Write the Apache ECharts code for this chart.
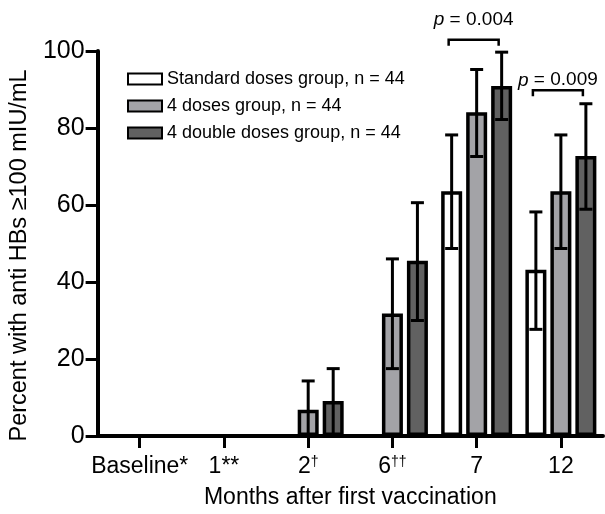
<!DOCTYPE html>
<html>
<head>
<meta charset="utf-8">
<title>Anti HBs response</title>
<script src="https://cdn.jsdelivr.net/npm/echarts@6/dist/echarts.min.js"></script>
<style>
    html, body { margin: 0; padding: 0; background: #fff; }
    #chart { width: 605px; height: 514px; }
</style>
</head>
<body>
<div id="chart"></div>
<script>
// --- Data ---
const categories = ['Baseline*', '1**', '2†', '6††', '7', '12'];
const seriesNames = ['Standard doses group, n = 44', '4 doses group, n = 44', '4 double doses group, n = 44'];
const standardValues = [0, 0, 0, 0, 63.6, 43.2];
const fourDosesValues = [0, 0, 6.8, 31.8, 84.1, 63.6];
const doubleDosesValues = [0, 0, 9.1, 45.5, 90.9, 72.7];
// error bars [low, high], null = no bar
const standardErr = [null, null, null, null, [48.7, 78.2], [27.7, 58.2]];
const fourDosesErr = [null, null, [0, 14.3], [17.5, 46.0], [72.6, 95.2], [48.7, 78.2]];
const doubleDosesErr = [null, null, [0, 17.5], [30.0, 60.6], [82.2, 99.7], [58.9, 86.3]];
const yTicks = [0, 20, 40, 60, 80, 100];
// p value brackets
const pCategories = [4, 5];
const pBracketY = [102.9, 89.8];
const pLabelY = [108.0, 92.4];
const pTexts = ['0.004', '0.009'];

const FONT = 'Liberation Sans, Arial, sans-serif';
const BAR_W = 21;
const BAR_STEP = 25; // bar width + gap
const colors = ['#ffffff', '#a3a3a7', '#616161'];

function barSeries(name, values, color) {
    return {
        name: name,
        type: 'bar',
        data: values,
        barWidth: BAR_W,
        barGap: '19%',
        silent: true,
        itemStyle: { color: color, borderColor: '#000', borderWidth: 3.5 }
    };
}

function errorSeries(errs, slot) {
    return {
        type: 'custom',
        silent: true,
        clip: false,
        z: 5,
        data: errs.map((e, i) => e ? [i, e[0], e[1]] : null).filter(Boolean),
        encode: { x: 0, y: [1, 2] },
        renderItem: function (params, api) {
            const cx = api.coord([api.value(0), 0])[0] + slot * BAR_STEP;
            const lo = api.coord([api.value(0), api.value(1)])[1];
            const hi = api.coord([api.value(0), api.value(2)])[1];
            const st = { stroke: '#000', lineWidth: 3 };
            return {
                type: 'group',
                children: [
                    { type: 'line', shape: { x1: cx, y1: lo, x2: cx, y2: hi }, style: st },
                    { type: 'line', shape: { x1: cx - 6.5, y1: hi, x2: cx + 6.5, y2: hi }, style: st },
                    { type: 'line', shape: { x1: cx - 6.5, y1: lo, x2: cx + 6.5, y2: lo }, style: st }
                ]
            };
        }
    };
}

const chart = echarts.init(document.getElementById('chart'));

chart.setOption({
    animation: false,
    backgroundColor: '#fff',
    textStyle: { fontFamily: FONT, color: '#000' },
    grid: { left: 94, right: 2, top: 51, bottom: 73, containLabel: false },
    legend: {
        orient: 'vertical',
        left: 127,
        top: 70,
        padding: 0,
        itemWidth: 34,
        itemHeight: 11,
        itemGap: 9,
        icon: 'rect',
        data: seriesNames,
        textStyle: { fontSize: 18, color: '#000', fontFamily: FONT }
    },
    xAxis: {
        type: 'category',
        data: categories,
        name: 'Months after first vaccination',
        nameLocation: 'middle',
        nameGap: 50,
        nameTextStyle: { fontSize: 23, color: '#000', fontFamily: FONT },
        axisLine: { show: true, lineStyle: { color: '#000', width: 4 } },
        axisTick: { show: true, alignWithLabel: true, interval: 0, inside: false, length: 12, lineStyle: { color: '#000', width: 3 } },
        axisLabel: {
            interval: 0,
            margin: 19,
            fontSize: 23,
            color: '#000',
            fontFamily: FONT,
            formatter: function (v) {
                const m = v.match(/^([^†]*)(†*)$/);
                return m[2] ? '{n|' + m[1] + '}{s|' + m[2] + '}' : '{n|' + v + '}';
            },
            rich: {
                n: { fontSize: 23, color: '#000', fontFamily: FONT },
                s: { fontSize: 14, color: '#000', fontFamily: FONT, verticalAlign: 'top', padding: [0, 0, 8, 0] }
            }
        }
    },
    yAxis: {
        type: 'value',
        min: yTicks[0],
        max: yTicks[yTicks.length - 1],
        interval: yTicks[1] - yTicks[0],
        name: 'Percent with anti HBs \u2265100 mIU/mL',
        nameLocation: 'middle',
        nameGap: 64,
        nameTextStyle: { fontSize: 23.5, color: '#000', fontFamily: FONT, padding: [0, 24, 0, 0] },
        axisLine: { show: true, lineStyle: { color: '#000', width: 4 } },
        axisTick: { show: true, length: 12, lineStyle: { color: '#000', width: 3 } },
        axisLabel: { margin: 13, fontSize: 25, color: '#000', fontFamily: FONT },
        splitLine: { show: false }
    },
    series: [
        barSeries(seriesNames[0], standardValues, colors[0]),
        barSeries(seriesNames[1], fourDosesValues, colors[1]),
        barSeries(seriesNames[2], doubleDosesValues, colors[2]),
        errorSeries(standardErr, -1),
        errorSeries(fourDosesErr, 0),
        errorSeries(doubleDosesErr, 1),
        {
            type: 'custom',
            silent: true,
            clip: false,
            z: 6,
            data: pCategories.map((c, i) => [c, pBracketY[i], pLabelY[i]]),
            encode: { x: 0, y: [1, 2] },
            renderItem: function (params, api) {
                const cx = api.coord([api.value(0), 0])[0];
                const yb = api.coord([api.value(0), api.value(1)])[1];
                const yl = api.coord([api.value(0), api.value(2)])[1];
                const xl = cx - BAR_STEP - 3;
                const xr = cx + BAR_STEP - 3;
                return {
                    type: 'group',
                    children: [
                        {
                            type: 'polyline',
                            shape: { points: [[xl, yb + 6], [xl, yb], [xr, yb], [xr, yb + 6]] },
                            style: { stroke: '#000', lineWidth: 2.5, fill: null }
                        },
                        {
                            type: 'text',
                            x: (xl + xr) / 2,
                            y: yl,
                            style: {
                                text: '{i|p} = ' + pTexts[params.dataIndex],
                                rich: { i: { fontStyle: 'italic', fontSize: 19, fontFamily: FONT } },
                                fontSize: 19,
                                fontFamily: FONT,
                                fill: '#000',
                                align: 'center',
                                verticalAlign: 'middle'
                            }
                        }
                    ]
                };
            }
        }
    ]
});
</script>
</body>
</html>
